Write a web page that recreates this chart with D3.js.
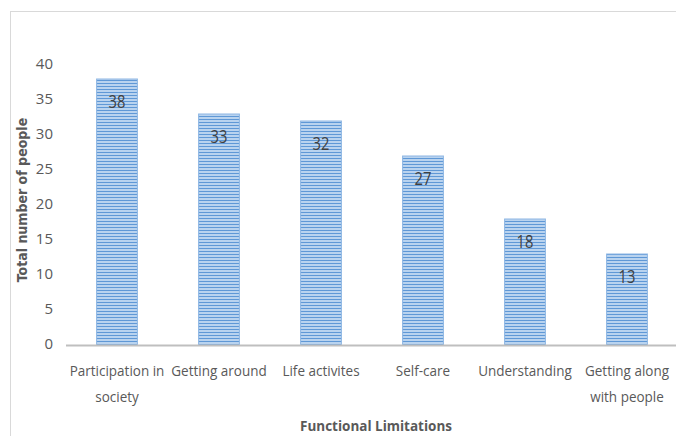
<!DOCTYPE html>
<html>
<head>
<meta charset="utf-8">
<script src="https://cdn.jsdelivr.net/npm/d3@7"></script>
<style>
  html, body { margin: 0; padding: 0; background: #fff; }
  svg { display: block; font-family: "Open Sans", sans-serif; }
</style>
</head>
<body>
<svg id="chart" width="676" height="436"></svg>
<script>
// Functional limitations and the number of people reporting each
const categories = [
  ["Participation in", "society"],
  ["Getting around"],
  ["Life activites"],
  ["Self-care"],
  ["Understanding"],
  ["Getting along", "with people"]
];
const counts = [38, 33, 32, 27, 18, 13];
const yTicks = [0, 5, 10, 15, 20, 25, 30, 35, 40];
const yTitle = "Total number of people";
const xTitle = "Functional Limitations";

const svg = d3.select("#chart");

// chart area frame
svg.append("rect")
  .attr("x", 10.5).attr("y", 11.5)
  .attr("width", 700).attr("height", 460)
  .attr("fill", "#fff").attr("stroke", "#d9d9d9").attr("stroke-width", 1);

// horizontal stripe fill for the bars
const defs = svg.append("defs");
const pat = defs.append("pattern")
  .attr("id", "stripes")
  .attr("patternUnits", "userSpaceOnUse")
  .attr("width", 8).attr("height", 3);
pat.append("rect").attr("width", 8).attr("height", 3).attr("fill", "#b9d3ef");
pat.append("rect").attr("y", 2).attr("width", 8).attr("height", 1).attr("fill", "#5f98d6");

const plotLeft = 66, plotRight = 678, plotTop = 65, plotBottom = 345;

const x = d3.scaleBand()
  .domain(d3.range(categories.length))
  .range([plotLeft, plotRight])
  .paddingInner(0.6)
  .paddingOuter(0.3);

const y = d3.scaleLinear().domain([0, 40]).range([plotBottom, plotTop]);
const cx = i => x(i) + x.bandwidth() / 2;

// bars
svg.append("g").selectAll("rect")
  .data(counts)
  .join("rect")
  .attr("x", (d, i) => x(i))
  .attr("y", d => y(d))
  .attr("width", x.bandwidth())
  .attr("height", d => y(0) - y(d))
  .attr("fill", "url(#stripes)")
  .attr("stroke", "#8db6e3")
  .attr("stroke-width", 1);

// value labels (narrow digits)
svg.append("g").selectAll("text")
  .data(counts)
  .join("text")
  .attr("transform", (d, i) => `translate(${cx(i)},${y(d) + 29}) scale(0.82,1)`)
  .attr("text-anchor", "middle")
  .attr("font-size", 18)
  .attr("fill", "#404040")
  .text(d => d);

// y axis labels
const yAxis = svg.append("g")
  .attr("transform", `translate(${plotLeft},0)`)
  .call(d3.axisLeft(y).tickValues(yTicks).tickSize(0).tickPadding(13));
yAxis.select(".domain").remove();
yAxis.selectAll("text")
  .attr("font-family", "Open Sans, sans-serif")
  .attr("font-size", 15)
  .attr("fill", "#595959")
  .attr("dy", "0.2em");

// x axis line
svg.append("line")
  .attr("x1", plotLeft).attr("x2", plotRight)
  .attr("y1", plotBottom + 0.5).attr("y2", plotBottom + 0.5)
  .attr("stroke", "#bfbfbf").attr("stroke-width", 2);

// category labels, wrapped onto two lines where needed
const catG = svg.append("g");
categories.forEach((lines, i) => {
  lines.forEach((ln, j) => {
    catG.append("text")
      .attr("transform", `translate(${cx(i)},${376 + j * 26}) scale(0.9,1)`)
      .attr("text-anchor", "middle")
      .attr("font-size", 15)
      .attr("fill", "#595959")
      .text(ln);
  });
});

// axis titles
svg.append("text")
  .attr("transform", `translate(27,200) rotate(-90)`)
  .attr("text-anchor", "middle")
  .attr("font-family", "DejaVu Sans Condensed, sans-serif")
  .attr("font-weight", "bold")
  .attr("font-size", 14)
  .attr("fill", "#595959")
  .text(yTitle);

svg.append("text")
  .attr("transform", `translate(376,431) scale(0.9,1)`)
  .attr("text-anchor", "middle")
  .attr("font-weight", "bold")
  .attr("font-size", 15)
  .attr("fill", "#595959")
  .text(xTitle);
</script>
</body>
</html>
